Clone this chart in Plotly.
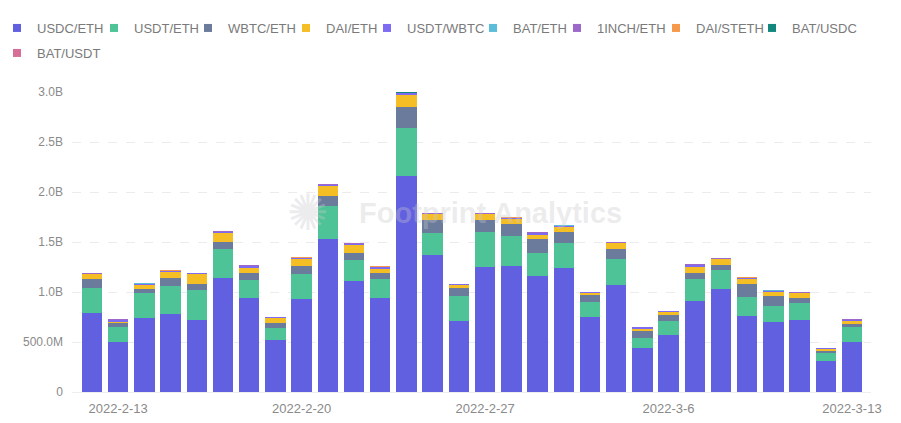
import plotly.graph_objects as go
import pandas as pd

# ---- data (values in billions) ----
dates = [d.strftime("%Y-%m-%d") for d in pd.date_range("2022-02-12", "2022-03-13", freq="D")]

usdc_eth = [0.786, 0.496, 0.740, 0.776, 0.720, 1.136, 0.936, 0.520, 0.926, 1.530,
            1.106, 0.936, 2.163, 1.366, 0.706, 1.246, 1.260, 1.160, 1.236, 0.753,
            1.066, 0.436, 0.566, 0.906, 1.026, 0.763, 0.696, 0.720, 0.313, 0.496]
usdt_eth = [0.257, 0.150, 0.246, 0.287, 0.300, 0.297, 0.187, 0.123, 0.257, 0.333,
            0.210, 0.197, 0.480, 0.227, 0.257, 0.357, 0.296, 0.233, 0.257, 0.147,
            0.260, 0.100, 0.140, 0.220, 0.197, 0.190, 0.167, 0.166, 0.073, 0.150]
wbtc_eth = [0.083, 0.040, 0.040, 0.073, 0.060, 0.070, 0.067, 0.050, 0.080, 0.093,
            0.070, 0.057, 0.203, 0.130, 0.073, 0.113, 0.127, 0.137, 0.103, 0.066,
            0.104, 0.074, 0.060, 0.064, 0.043, 0.127, 0.093, 0.057, 0.027, 0.030]
dai_eth = [0.054, 0.020, 0.050, 0.067, 0.103, 0.087, 0.056, 0.047, 0.070, 0.107,
           0.084, 0.046, 0.124, 0.060, 0.034, 0.064, 0.047, 0.046, 0.054, 0.027,
           0.060, 0.026, 0.034, 0.060, 0.067, 0.050, 0.050, 0.050, 0.017, 0.037]
usdt_wbtc = [0.005, 0.017, 0.007, 0.010, 0.003, 0.013, 0.014, 0.004, 0.013, 0.010,
             0.010, 0.014, 0.020, 0.004, 0.003, 0.006, 0.013, 0.014, 0.016, 0.003,
             0.003, 0.010, 0.003, 0.020, 0.003, 0.010, 0.010, 0.003, 0.006, 0.010]
bat_eth = [0.001, 0.000, 0.001, 0.000, 0.000, 0.001, 0.000, 0.000, 0.001, 0.001,
           0.000, 0.000, 0.001, 0.000, 0.000, 0.001, 0.000, 0.000, 0.001, 0.000,
           0.000, 0.000, 0.000, 0.001, 0.000, 0.000, 0.001, 0.000, 0.000, 0.000]
inch_eth = [0.001, 0.001, 0.000, 0.001, 0.000, 0.001, 0.001, 0.000, 0.000, 0.001,
            0.001, 0.000, 0.002, 0.001, 0.000, 0.001, 0.001, 0.001, 0.000, 0.000,
            0.001, 0.000, 0.000, 0.001, 0.001, 0.000, 0.000, 0.001, 0.000, 0.001]
dai_steth = [0.000, 0.000, 0.000, 0.001, 0.000, 0.000, 0.000, 0.000, 0.001, 0.000,
             0.000, 0.001, 0.001, 0.000, 0.000, 0.000, 0.001, 0.000, 0.000, 0.000,
             0.000, 0.000, 0.000, 0.000, 0.000, 0.001, 0.000, 0.000, 0.000, 0.000]
bat_usdc = [0.000, 0.000, 0.000, 0.000, 0.000, 0.000, 0.000, 0.000, 0.000, 0.000,
            0.000, 0.000, 0.001, 0.000, 0.000, 0.000, 0.000, 0.000, 0.000, 0.000,
            0.000, 0.000, 0.000, 0.000, 0.000, 0.000, 0.000, 0.000, 0.000, 0.000]
bat_usdt = [0.000, 0.000, 0.000, 0.000, 0.000, 0.000, 0.000, 0.000, 0.000, 0.000,
            0.000, 0.000, 0.000, 0.000, 0.000, 0.000, 0.000, 0.000, 0.000, 0.000,
            0.000, 0.000, 0.000, 0.000, 0.000, 0.000, 0.000, 0.000, 0.000, 0.000]

series_names = ["USDC/ETH", "USDT/ETH", "WBTC/ETH", "DAI/ETH", "USDT/WBTC",
                "BAT/ETH", "1INCH/ETH", "DAI/STETH", "BAT/USDC", "BAT/USDT"]
series_values = [usdc_eth, usdt_eth, wbtc_eth, dai_eth, usdt_wbtc,
                 bat_eth, inch_eth, dai_steth, bat_usdc, bat_usdt]
colors = ["#6160E0", "#4EC397", "#6B7B9C", "#F6BE25", "#7D6CF3",
          "#5CBDDB", "#9C68CA", "#F5994D", "#12877D", "#D66E97"]

x_tick_vals = ["2022-02-13", "2022-02-20", "2022-02-27", "2022-03-06", "2022-03-13"]
x_tick_text = ["2022-2-13", "2022-2-20", "2022-2-27", "2022-3-6", "2022-3-13"]
y_tick_vals = [0, 0.5e9, 1.0e9, 1.5e9, 2.0e9, 2.5e9, 3.0e9]
y_tick_text = ["0", "500.0M", "1.0B", "1.5B", "2.0B", "2.5B", "3.0B"]

# legend layout (text start x in px, row y in px)
legend_text_x = [33, 130, 224, 322, 403, 509, 593, 692, 788, 33]
legend_row_y = [28, 28, 28, 28, 28, 28, 28, 28, 28, 53]

W, H = 901, 423
ML, MR, MT, MB = 72, 30, 92, 31
PW = W - ML - MR
FONT = "Liberation Sans, Arial, sans-serif"

fig = go.Figure()
for i, (name, vals, col) in enumerate(zip(series_names, series_values, colors)):
    lg = "legend" if i == 0 else f"legend{i+1}"
    fig.add_trace(go.Bar(
        x=dates, y=[v * 1e9 for v in vals], name=name,
        marker=dict(color=col, line=dict(width=0)),
        legendgroup=name, showlegend=False, legend=lg,
    ))
    # legend entry with a small square swatch
    fig.add_trace(go.Scatter(
        x=[None], y=[None], mode="markers", name=name,
        marker=dict(symbol="square", size=8, color=col, line=dict(width=0)),
        legendgroup=name, showlegend=True, legend=lg, hoverinfo="skip",
    ))

legends = {}
for i in range(len(series_names)):
    key = "legend" if i == 0 else f"legend{i+1}"
    legends[key] = dict(
        x=(legend_text_x[i] - 36 - ML) / PW, y=1 - legend_row_y[i] / H,
        xref="paper", yref="container",
        xanchor="left", yanchor="middle", orientation="h",
        font=dict(family=FONT, size=13, color="#7a7a7a"),
        bgcolor="rgba(0,0,0,0)", itemwidth=30, itemsizing="trace",
    )

start = pd.Timestamp(dates[0]) - pd.Timedelta(hours=0.763 * 24)
end = pd.Timestamp(dates[-1]) + pd.Timedelta(hours=0.725 * 24)

fig.update_layout(
    width=W, height=H,
    barmode="stack", bargap=0.22,
    paper_bgcolor="white", plot_bgcolor="white",
    margin=dict(l=ML, r=MR, t=MT, b=MB, autoexpand=False),
    font=dict(family=FONT, size=12, color="#8a8a8a"),
    showlegend=True,
    **legends,
    xaxis=dict(
        type="date", range=[start, end],
        tickvals=x_tick_vals, ticktext=x_tick_text,
        showgrid=False, showline=True, linecolor="#eeeeee", linewidth=1,
        ticks="", tickfont=dict(family=FONT, size=13, color="#8a8a8a"),
        ticklabelstandoff=4,
    ),
    yaxis=dict(
        range=[0, 3.0e9], tickvals=y_tick_vals, ticktext=y_tick_text,
        showgrid=True, gridcolor="#ececec", griddash="dash", gridwidth=1,
        zeroline=False, ticks="", ticklabelstandoff=8,
        tickfont=dict(family=FONT, size=12, color="#8a8a8a"),
    ),
    annotations=[
        dict(text="<b>Footprint Analytics</b>", xref="paper", yref="paper",
             x=0.524, y=0.597, xanchor="center", yanchor="middle", showarrow=False,
             font=dict(family=FONT, size=29, color="rgba(200,200,205,0.35)")),
        dict(text="✺", xref="paper", yref="paper",
             x=0.295, y=0.597, xanchor="center", yanchor="middle", showarrow=False,
             font=dict(family="DejaVu Sans", size=50, color="rgba(200,200,205,0.35)")),
    ],
)

fig.write_html("out.html", config={"displayModeBar": False},
               post_script="document.body.style.margin='0';")
